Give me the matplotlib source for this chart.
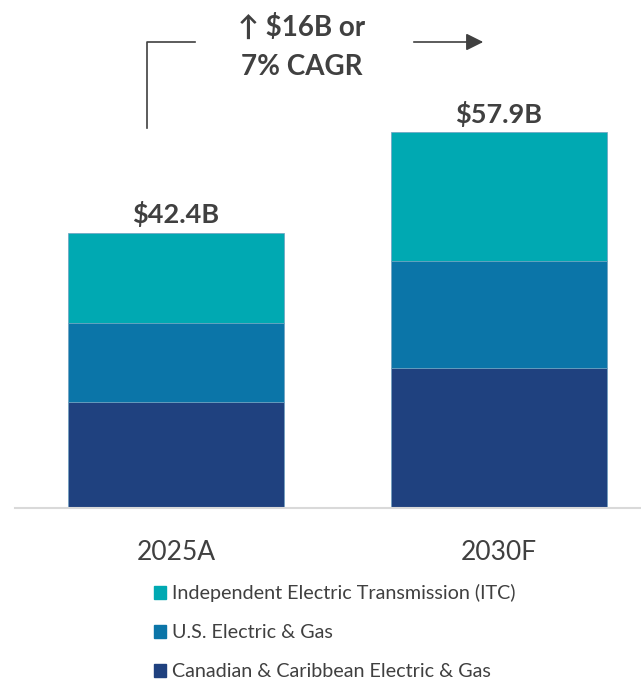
import matplotlib.pyplot as plt
from matplotlib.patches import Patch

# data (billions USD)
years = ['2025A', '2030F']
canadian = [16.3, 21.6]
us_gas = [12.2, 16.4]
itc = [13.9, 19.9]
totals = ['$42.4B', '$57.9B']
series_names = ['Canadian & Caribbean Electric & Gas', 'U.S. Electric & Gas',
                'Independent Electric Transmission (ITC)']
colors = ['#1F417F', '#0B75A8', '#00A9B2']

plt.rcParams['font.family'] = ['Lato', 'DejaVu Sans']
txt = '#404040'

fig = plt.figure(figsize=(6.41, 6.84), dpi=100)
ax = fig.add_axes([15/641, 176/684, 626/641, 508/684])

x = range(len(years))
bottom = [0, 0]
for vals, col in zip([canadian, us_gas, itc], colors):
    ax.bar(x, vals, width=0.67, bottom=bottom, color=col, edgecolor='#6fa0c0', linewidth=0.5)
    bottom = [b + v for b, v in zip(bottom, vals)]

for i, t in enumerate(totals):
    ax.text(i, bottom[i] + 0.9, t, ha='center', va='bottom', fontsize=19.5, fontweight='bold', color=txt)

ax.set_xlim(-0.498, 1.44)
ax.set_ylim(0, 78.3)
for s in ['top', 'right', 'left']:
    ax.spines[s].set_visible(False)
ax.spines['bottom'].set_color('#d9d9d9')
ax.spines['bottom'].set_linewidth(1.5)
ax.set_yticks([])
ax.set_xticks(list(x))
ax.set_xticklabels(years, fontsize=19, color=txt)
ax.tick_params(axis='x', length=0, pad=23)

# CAGR annotation
fig.text(302/641, 1 - 27/684, '↑ $16B or', ha='center', va='center', fontsize=20, fontweight='bold', color=txt)
fig.text(302/641, 1 - 67/684, '7% CAGR', ha='center', va='center', fontsize=20, fontweight='bold', color=txt)
fig.add_artist(plt.Line2D([147/641, 147/641, 195/641], [1 - 128/684, 1 - 42/684, 1 - 42/684],
                          color=txt, linewidth=1.2, transform=fig.transFigure))
ax.annotate('', xy=(486/641, 1 - 42/684), xytext=(411/641, 1 - 42/684),
            xycoords='figure fraction', textcoords='figure fraction',
            arrowprops=dict(arrowstyle='-|>', color=txt, lw=1.2, mutation_scale=26))

handles = [Patch(color=c) for c in colors][::-1]
fig.legend(handles, series_names[::-1], loc='upper left', bbox_to_anchor=(154/641, 1 - 584/684),
           frameon=False, fontsize=14.2, handlelength=0.62, handleheight=0.62, handletextpad=0.3,
           labelspacing=1.12, labelcolor=txt, borderaxespad=0, borderpad=0)

fig.savefig('out.png', dpi=100)
